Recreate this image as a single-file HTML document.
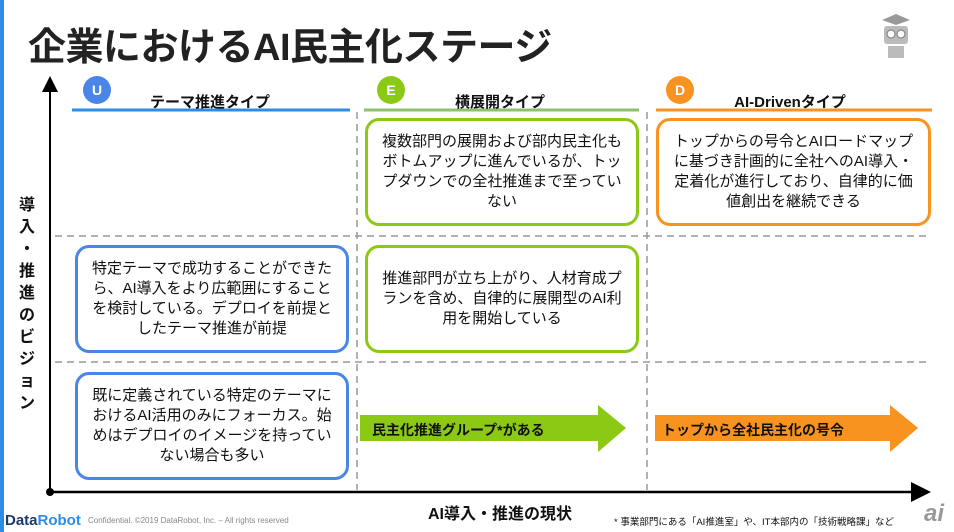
<!DOCTYPE html>
<html><head><meta charset="utf-8"><style>
body{margin:0;width:954px;height:532px;background:#fff;position:relative;overflow:hidden;font-family:"Liberation Sans","Noto Sans CJK JP",sans-serif;color:#111}
.a{position:absolute}
.box{position:absolute;border:3px solid;border-radius:14px;box-sizing:border-box;display:flex;align-items:center;justify-content:center;text-align:center;font-size:15px;line-height:20px;background:#fff;padding:0 12px}
.c{position:absolute;width:28px;height:28px;border-radius:50%;color:#fff;font-weight:bold;font-size:14px;text-align:center;line-height:28px}
.h{position:absolute;font-weight:bold;font-size:15px;text-align:center}
</style></head><body>
<div class="a" style="left:0;top:0;width:4px;height:532px;background:#2b8de8"></div>
<div class="a" style="left:28px;top:16px;font-size:38px;font-weight:bold;color:#222;letter-spacing:-0.5px">企業におけるAI民主化ステージ</div>
<svg class="a" style="left:880px;top:14px" width="32" height="46"><rect x="4" y="12" width="24" height="18" rx="3" fill="#bbb"/><polygon points="16,0 30,6 16,11 2,6" fill="#999"/><circle cx="11" cy="20" r="4" fill="#fff" stroke="#777"/><circle cx="21" cy="20" r="4" fill="#fff" stroke="#777"/><rect x="8" y="32" width="16" height="12" fill="#bbb"/></svg>
<svg class="a" style="left:0;top:0" width="954" height="532">
<defs><marker id="m" markerWidth="8" markerHeight="8" refX="6" refY="4" orient="auto"><path d="M0,0L8,4L0,8z" fill="#000"/></marker></defs>
<line x1="50" y1="492" x2="50" y2="80" stroke="#000" stroke-width="2" marker-end="url(#m)"/>
<line x1="50" y1="492" x2="926" y2="492" stroke="#000" stroke-width="2.5" marker-end="url(#m)"/>
<circle cx="50" cy="492" r="4" fill="#000"/>
<g stroke="#999" stroke-width="1.5" stroke-dasharray="7,5">
<line x1="357" y1="112" x2="357" y2="490"/><line x1="647" y1="112" x2="647" y2="490"/>
<line x1="55" y1="236" x2="930" y2="236"/><line x1="55" y1="362" x2="930" y2="362"/></g>
<line x1="72" y1="110" x2="350" y2="110" stroke="#2b8de8" stroke-width="3"/>
<line x1="364" y1="110" x2="639" y2="110" stroke="#8fbf6f" stroke-width="3"/>
<line x1="656" y1="110" x2="932" y2="110" stroke="#f7931e" stroke-width="3"/>
<polygon points="360,415 598,415 598,405 626,428 598,452 598,441 360,441" fill="#8cc915"/>
<polygon points="655,415 890,415 890,405 918,428 890,452 890,441 655,441" fill="#f7931e"/>
</svg>
<div class="c" style="left:83px;top:76px;background:#4a86e8">U</div>
<div class="c" style="left:377px;top:76px;background:#8cc915">E</div>
<div class="c" style="left:666px;top:76px;background:#f7931e">D</div>
<div class="h" style="left:120px;top:91px;width:180px">テーマ推進タイプ</div>
<div class="h" style="left:410px;top:91px;width:180px">横展開タイプ</div>
<div class="h" style="left:700px;top:91px;width:180px">AI-Drivenタイプ</div>
<div class="box" style="left:365px;top:118px;width:274px;height:108px;border-color:#8cc915">複数部門の展開および部内民主化もボトムアップに進んでいるが、トップダウンでの全社推進まで至っていない</div>
<div class="box" style="left:656px;top:118px;width:275px;height:108px;border-color:#f7931e">トップからの号令とAIロードマップに基づき計画的に全社へのAI導入・定着化が進行しており、自律的に価値創出を継続できる</div>
<div class="box" style="left:75px;top:245px;width:274px;height:108px;border-color:#4a86e8">特定テーマで成功することができたら、AI導入をより広範囲にすることを検討している。デプロイを前提としたテーマ推進が前提</div>
<div class="box" style="left:365px;top:245px;width:274px;height:108px;border-color:#8cc915;padding:0 14px">推進部門が立ち上がり、人材育成プランを含め、自律的に展開型のAI利用を開始している</div>
<div class="box" style="left:75px;top:372px;width:274px;height:108px;border-color:#4a86e8">既に定義されている特定のテーマにおけるAI活用のみにフォーカス。始めはデプロイのイメージを持っていない場合も多い</div>
<div class="a" style="left:372px;top:420px;font-size:14px;font-weight:bold">民主化推進グループ*がある</div>
<div class="a" style="left:662px;top:420px;font-size:14px;font-weight:bold">トップから全社民主化の号令</div>
<div class="a" style="left:17px;top:195px;width:20px;font-size:16px;font-weight:bold;line-height:22px;text-align:center">導<br>入<br>・<br>推<br>進<br>の<br>ビ<br>ジ<br>ョ<br>ン</div>
<div class="a" style="left:400px;top:500px;width:200px;text-align:center;font-size:16px;font-weight:bold">AI導入・推進の現状</div>
<div class="a" style="left:5px;top:512px;font-size:15px;font-weight:bold;color:#1a3a6b">Data<span style="color:#2b8de8">Robot</span></div>
<div class="a" style="left:88px;top:516px;font-size:8px;color:#888">Confidential. ©2019 DataRobot, Inc. – All rights reserved</div>
<div class="a" style="left:614px;top:514px;font-size:9.5px">* 事業部門にある「AI推進室」や、IT本部内の「技術戦略課」など</div>
<div class="a" style="left:924px;top:500px;font-size:24px;font-style:italic;font-weight:bold;color:#999">ai</div>
</body></html>
